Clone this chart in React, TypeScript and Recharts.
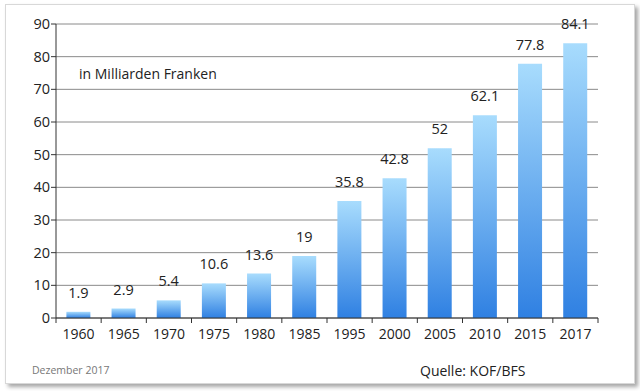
import React from "react";
import { BarChart, Bar, XAxis, YAxis, CartesianGrid, LabelList } from "recharts";

const years = ["1960", "1965", "1970", "1975", "1980", "1985", "1995", "2000", "2005", "2010", "2015", "2017"];
const values = [1.9, 2.9, 5.4, 10.6, 13.6, 19, 35.8, 42.8, 52, 62.1, 77.8, 84.1];
const yTicks = [0, 10, 20, 30, 40, 50, 60, 70, 80, 90];

const data = years.map((y, i) => ({ year: y, value: values[i] }));

const FONT = "'Open Sans', 'Noto Sans', sans-serif";
const PLOT_W = 542;
const BAND = PLOT_W / years.length;
const TICK_MARGIN = 11;

const XTick = (props: any) => {
  const { x, y, payload, index } = props;
  const axisY = y - TICK_MARGIN;
  return (
    <g>
      <line x1={x - BAND / 2} x2={x - BAND / 2} y1={axisY} y2={axisY + 5} stroke="#333" />
      {index === years.length - 1 && (
        <line x1={x + BAND / 2} x2={x + BAND / 2} y1={axisY} y2={axisY + 5} stroke="#333" />
      )}
      <text x={x} y={y} dy="0.71em" textAnchor="middle" fontSize={14} fontFamily={FONT} fill="#222">
        {payload.value}
      </text>
    </g>
  );
};

export default function App() {
  return (
    <div style={{ position: "absolute", left: 0, top: 0, width: 640, height: 391, background: "#fff" }}>
      <div
        style={{
          position: "absolute",
          left: 5,
          top: 4,
          width: 628,
          height: 378,
          border: "1px solid #d8d8d8",
          boxShadow: "3px 3px 4px rgba(0,0,0,0.35)",
          background: "#fff",
        }}
      />
      <div style={{ position: "absolute", left: 0, top: 0 }}>
        <BarChart width={640} height={391} data={data} margin={{ top: 24, right: 42, bottom: 43, left: 0 }} barCategoryGap="23%">
          <defs>
            <linearGradient id="barGrad" x1="0" y1="0" x2="0" y2="1">
              <stop offset="0%" stopColor="#a8dcfd" />
              <stop offset="100%" stopColor="#2f80e2" />
            </linearGradient>
          </defs>
          <CartesianGrid vertical={false} stroke="#8a8a8a" />
          <XAxis
            dataKey="year"
            height={30}
            tickLine={false}
            tickSize={0}
            axisLine={{ stroke: "#333" }}
            tick={<XTick />}
            tickMargin={TICK_MARGIN}
            interval={0}
          />
          <YAxis
            width={56}
            domain={[0, 90]}
            ticks={yTicks}
            tickSize={5}
            tickMargin={1}
            axisLine={{ stroke: "#333" }}
            tickLine={{ stroke: "#333" }}
            tick={{ fontSize: 14.5, fontFamily: FONT, fill: "#222" }}
          />
          <Bar dataKey="value" fill="url(#barGrad)" isAnimationActive={false}>
            <LabelList dataKey="value" position="top" offset={14} fontSize={14.5} fontFamily={FONT} fill="#222" />
          </Bar>
          <text x={79} y={79} fontSize={14} fontFamily={FONT} fill="#222">in Milliarden Franken</text>
          <text x={32} y={374} fontSize={10.5} fontFamily={FONT} fill="#777">Dezember 2017</text>
          <text x={420} y={376} fontSize={14} fontFamily={FONT} fill="#222">Quelle: KOF/BFS</text>
        </BarChart>
      </div>
    </div>
  );
}
